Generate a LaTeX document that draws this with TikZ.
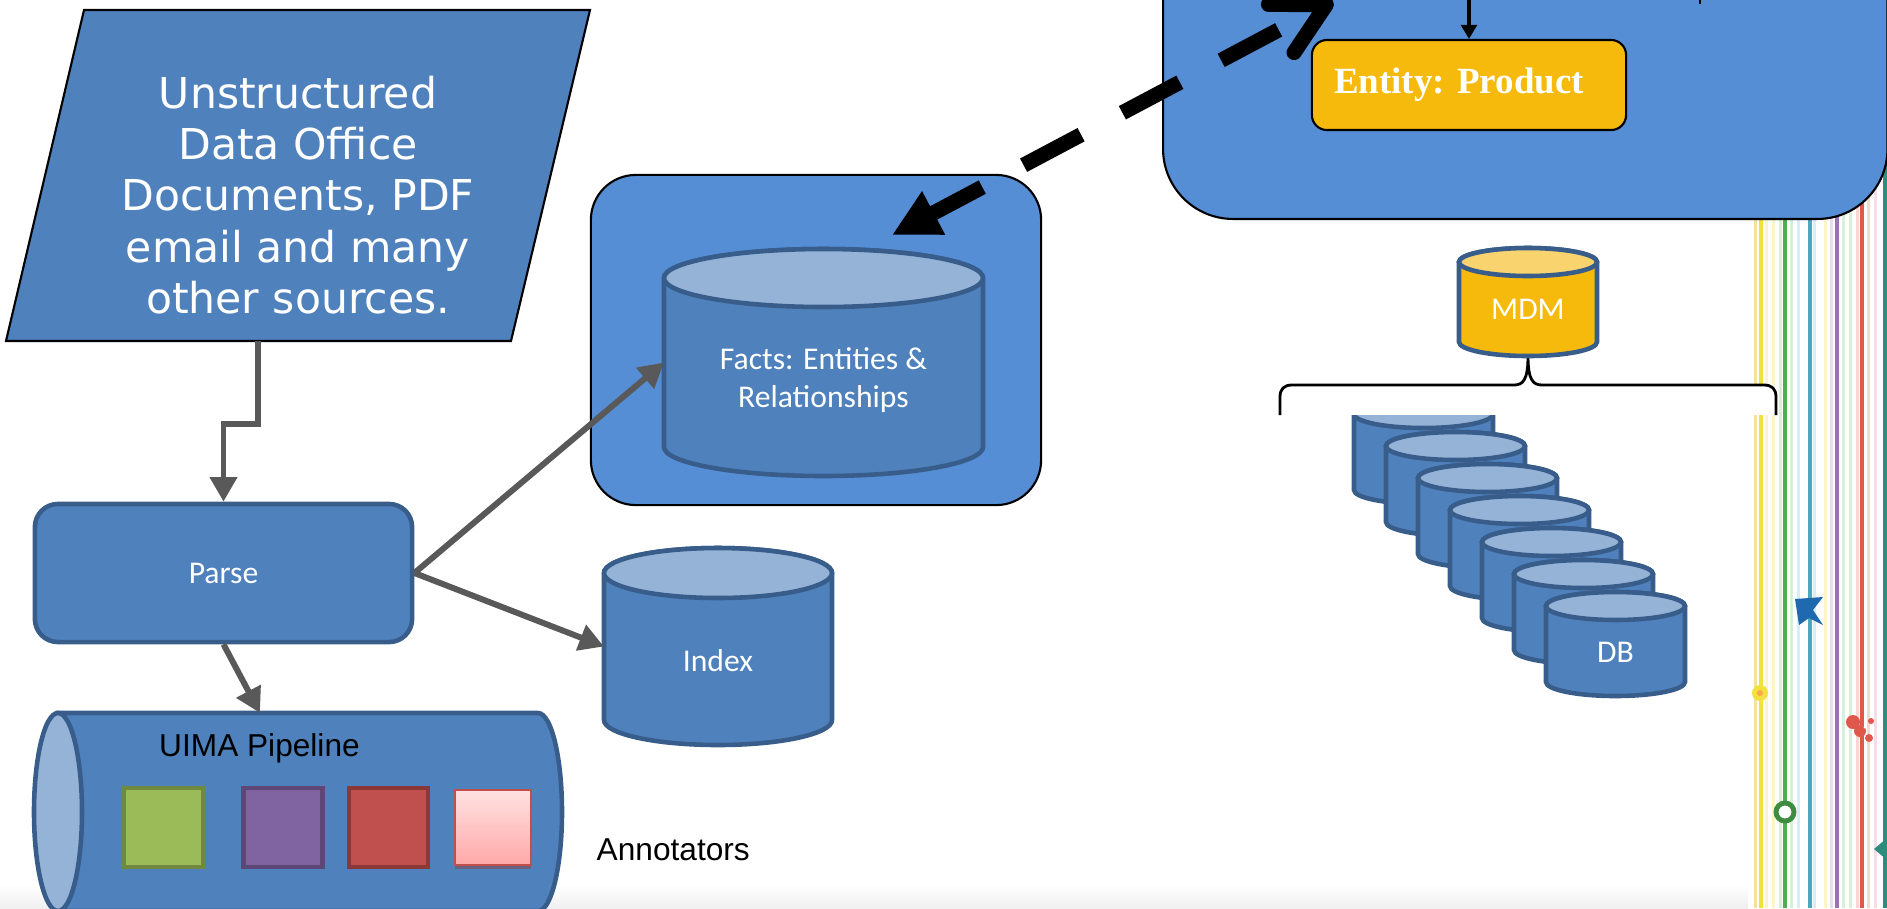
\documentclass[tikz,border=0pt]{standalone}
\usepackage{fontspec}
\newfontfamily\verdanafont{DejaVu Sans}
\newfontfamily\calfont{Carlito}
\newfontfamily\arialfont{Liberation Sans}
\newfontfamily\timesfont{Liberation Serif}
\usetikzlibrary{arrows.meta,shadows}

\definecolor{boxblue}{HTML}{4F81BD}
\definecolor{boxedge}{HTML}{385D8A}
\definecolor{cantop}{HTML}{95B3D7}
\definecolor{areablue}{HTML}{558ED5}
\definecolor{gold}{HTML}{F6BA0C}
\definecolor{goldtop}{HTML}{F9D46E}
\definecolor{arrowgrey}{HTML}{595959}
\definecolor{annogreen}{HTML}{9BBB59}
\definecolor{annogreenedge}{HTML}{71893F}
\definecolor{annopurple}{HTML}{8064A2}
\definecolor{annopurpleedge}{HTML}{5C4776}
\definecolor{annored}{HTML}{C0504D}
\definecolor{annorededge}{HTML}{8C3836}
\definecolor{pinktop}{HTML}{FFE2E2}
\definecolor{pinkbottom}{HTML}{FFA8A8}
\definecolor{paleorange}{HTML}{F9DFA0}
\definecolor{paleyellow}{HTML}{FCF5C8}
\definecolor{palegreen}{HTML}{D7F0D9}
\definecolor{paleblue}{HTML}{D6EEF6}
\definecolor{palepurple}{HTML}{E6DDF0}
\definecolor{palered}{HTML}{F7D6D3}
\definecolor{palepink}{HTML}{F8DDE8}
\definecolor{lineyellow}{HTML}{F2E03C}
\definecolor{linegreen}{HTML}{4CAF50}
\definecolor{lineteal}{HTML}{4AA8C0}
\definecolor{linepurple}{HTML}{9C72B0}
\definecolor{linered}{HTML}{E0584C}
\definecolor{linedark}{HTML}{2E8C7C}
\definecolor{iconblue}{HTML}{1F69B0}

\tikzset{
  canline/.style={draw=boxedge, line width=1.3pt},
  canshape/.style={rectangle, inner sep=0pt, outer sep=0pt},
  cantext/.style={text=white, align=center, inner sep=0pt, font=\calfont\fontsize{9}{10.9}\selectfont},
  procbox/.style={draw=boxedge, line width=1.3pt, fill=boxblue, rounded corners=0.23cm, text=white, font=\calfont\fontsize{9}{10.9}\selectfont},
  areabox/.style={draw=black, line width=0.6pt, fill=areablue, rounded corners=0.45cm},
  entitybox/.style={draw=black, line width=0.6pt, fill=gold, rounded corners=0.15cm, text=white, font=\timesfont\bfseries\fontsize{10.5}{12}\selectfont},
  srctext/.style={text=white, align=center, inner sep=0pt, font=\verdanafont\fontsize{12.1}{14.6}\selectfont},
  pipetext/.style={text=black, inner sep=0pt, font=\arialfont\fontsize{9}{11}\selectfont},
  annobox/.style={rectangle, inner sep=0pt, line width=1.2pt, minimum width=0.79cm, minimum height=0.79cm},
  feed/.style={draw=arrowgrey, line width=1.7pt, -{Triangle[length=7pt,width=7.5pt]}},
  thinfeed/.style={draw=black, line width=0.9pt, -{Triangle[length=4pt,width=4.5pt]}},
  bigdash/.style={draw=black, line width=4.3pt, dash pattern=on 18.5pt off 13.3pt, dash phase=2pt,
    {Triangle[length=13.4pt,width=13pt]}-{Straight Barb[length=14.5pt,width=15.5pt,round]}},
  stripe/.style={line width=0.85pt},
}

% can: name, body colour, top colour, centre x, top y, half width, height, end radius
\newcommand{\dbcan}[8]{%
  \filldraw[canline, fill=#2] ({#4-#6},{-#5-#8}) -- ({#4-#6},{-#5-#7+#8}) arc (180:360:#6 and #8) -- ({#4+#6},{-#5-#8}) arc (0:180:#6 and #8) -- cycle;
  \filldraw[canline, fill=#3] (#4,{-#5-#8}) ellipse (#6 and #8);
  \node[canshape, minimum width=#6*0.02cm, minimum height=#7*0.01cm] (#1) at (#4,{-#5-#7/2}) {};
}

\begin{document}
\begin{tikzpicture}[x=0.01cm,y=0.01cm]
		%%%%% START %%%%%
		\useasboundingbox (0,0) rectangle (1887,-908);
		\shade[top color=white, bottom color=gray!12] (0,-884) rectangle (1748,-908);
		
		% stripes on the right
		\foreach \x/\c in {1755/paleorange, 1766/paleyellow, 1773/paleyellow, 1780/palegreen, 1791/palegreen, 1798/paleblue, 1814/paleblue, 1825/paleyellow, 1831/palepurple, 1843/palegreen, 1850/palegreen, 1857/palered, 1868/palered, 1875/palepink}
			\draw[stripe, draw=\c] (\x,-150) -- (\x,-908);
		\draw[line width=1.15pt, lineyellow] (1761,-150) -- (1761,-908);
		\foreach \x/\c in {1785/linegreen, 1810/lineteal, 1837/linepurple, 1862/linered, 1885/linedark}
			\draw[line width=1pt, draw=\c] (\x,-150) -- (\x,-908);
		
		\fill[iconblue] (1795,-599) -- (1823,-597) -- (1813,-610) -- (1823,-625) -- (1809,-618) -- (1799,-625) -- cycle;
		\fill[lineyellow] (1760,-693) circle (8);
		\fill[orange!70] (1760,-693) circle (3);
		\fill[linered] (1853,-722) circle (7);
		\fill[linered] (1860,-731) circle (6);
		\fill[linered] (1869,-738) circle (4);
		\fill[linered] (1871,-721) circle (3);
		\fill[white] (1865,-727) circle (1.5);
		\draw[line width=1.4pt, draw=linegreen!80!black, fill=white] (1785,-812) circle (9);
		\fill[linedark] (1874,-849) -- (1887,-838) -- (1887,-860) -- cycle;
		
		% product area
		\node[areabox, rounded corners=0.7cm, minimum width=7.24cm, minimum height=4cm, anchor=south west] (prodarea) at (1162,-220) {};
		\node[entitybox, minimum width=3.14cm, minimum height=0.9cm] (entity) at (1469,-85) {Entity: Product\kern0.2cm};
		\coordinate (entfeed) at (1469,10);
		\draw[thinfeed] (entfeed) -- (entity.north);
		\draw[line width=0.4pt] (1700,0) -- (1700,-4);
		
		% facts area
		\node[areabox, minimum width=4.5cm, minimum height=3.3cm] (factsarea) at (816,-340) {};
		\dbcan{facts}{boxblue}{cantop}{823.5}{249}{159.5}{227}{29}
		\node[cantext] (factstext) at (823.5,-380) {Facts: Entities \&\\Relationships};
		
		\dbcan{index}{boxblue}{cantop}{718}{548}{114}{197}{25}
		\node[cantext, anchor=base] (indextext) at (718,-671) {Index};
		
		% source
		\filldraw[fill=boxblue, draw=black, line width=0.6pt] (84,-10) -- (590,-10) -- (511,-341) -- (6,-341) -- cycle;
		\node[srctext] (source) at (298,-195) {Unstructured\\Data Office\\Documents, PDF\\email and many\\other sources.};
		\coordinate (srcout) at (258,-341);
		
		\node[procbox, minimum width=3.77cm, minimum height=1.38cm] (parse) at (223.5,-573) {Parse};
		
		% pipeline
		\filldraw[canline, fill=boxblue] (58,-713) -- (538,-713) arc (90:-90:24 and 99) -- (58,-911) -- cycle;
		\filldraw[canline, fill=cantop] (58,-812) ellipse (24 and 99);
		\node[canshape, minimum width=4.8cm, minimum height=1.98cm] (uima) at (298,-812) {};
		\node[pipetext, anchor=base] (uimatext) at (259.5,-756) {UIMA Pipeline};
		
		\foreach \x/\fc/\dc [count=\i] in {163.5/annogreen/annogreenedge, 283/annopurple/annopurpleedge, 388.5/annored/annorededge}
			\node[annobox, fill=\fc, draw=\dc] (anno\i) at (\x,-827.5) {};
		\node[annobox, draw=annored, line width=0.6pt, minimum width=0.76cm, minimum height=0.75cm, top color=pinktop, bottom color=pinkbottom,
			drop shadow={shadow xshift=0pt, shadow yshift=-1.2pt, fill=annorededge, opacity=0.45}] (anno4) at (493,-827.5) {};
		\node[pipetext, anchor=base west] (annolabel) at (596,-860) {Annotators};
		
		% connectors
		\draw[feed] (srcout) -- ++(0,-83) -| (parse.north);
		\draw[feed] (parse.south) -- (uima.111);
		\draw[feed] (parse.east) -- (facts.west);
		\draw[feed] (parse.east) -- (index.west);
		
		\coordinate (dashtip) at (892,-235);
		\coordinate (dashend) at (1333,-1);
		\draw[bigdash] (dashtip) -- (dashend);
		
		% DB stack
		\foreach \i [evaluate=\i as \cx using 1423.5+32*\i, evaluate=\i as \ty using 400+32*\i] in {0,...,6}
			\dbcan{db\i}{boxblue}{cantop}{\cx}{\ty}{69.5}{104}{14}
		\node[cantext, anchor=base] (dbtext) at (1615.5,-662) {DB};
		
		\fill[white] (1278,-386) rectangle (1777,-415);
		\draw[line width=0.8pt] (1280,-415) -- (1280,-397) .. controls (1280,-389) and (1284,-385) .. (1292,-385) -- (1514,-385)
			.. controls (1523,-385) and (1528,-380) .. (1528,-356) .. controls (1528,-380) and (1533,-385) .. (1542,-385)
			-- (1764,-385) .. controls (1772,-385) and (1776,-389) .. (1776,-397) -- (1776,-415);
		
		\dbcan{mdm}{gold}{goldtop}{1528}{248}{69}{108}{14}
		\node[cantext, anchor=base] (mdmtext) at (1528,-319) {MDM};
		
		%%%%% END %%%%%
\end{tikzpicture}
\end{document}
